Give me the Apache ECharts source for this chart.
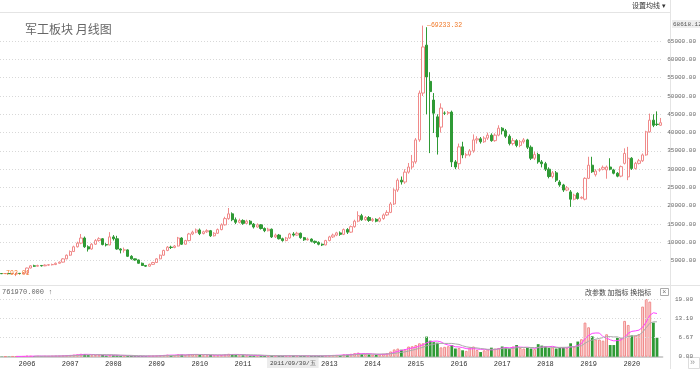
<!DOCTYPE html>
<html><head><meta charset="utf-8">
<script src="https://cdn.jsdelivr.net/npm/echarts@6/dist/echarts.min.js"></script>
<style>html,body{margin:0;padding:0;background:#fff}#c{width:700px;height:369px}</style>
</head><body><div id="c"></div>
<script>
// first month of the series and month count
const startYear = 2005, startMonth = 6, monthCount = 184;
// price axis tick labels
const priceTicks = [5000,10000,15000,20000,25000,30000,35000,40000,45000,50000,55000,60000,65000];
const volumeTicks = [0, 6.67, 13.10, 19.80];
const priceTopLabel = '68618.12';
const volumeUnitLabel = '761970.000 \u2191';
const cursorDateLabel = '2011/09/30/\u4e94';
// monthly candles: [open, close, low, high]
const ohlc = [
[1500,1450,1350,1600],[1450,1500,1400,1550],[1500,1450,1400,1550],[1450,1500,1400,1550],[1500,1550,792.01,1600],[1550,1500,1450,1600],[1500,1600,1450,1700],
[1600,3000,1550,3100],[3000,3600,2900,3800],[3600,3500,3300,3900],[3500,3700,3400,3900],[3700,3600,3400,3800],[3600,3800,3500,4000],[3800,3900,3600,4100],[3900,3950,3700,4200],[3950,4300,3800,4500],[4300,4600,4200,4800],[4600,5500,4500,5700],[5500,6500,5400,6700],
[6500,7500,6300,7800],[7500,8800,7400,9100],[8800,9800,8600,10200],[9800,11200,9500,12300],[11200,8800,8500,11600],[8800,8200,7500,9200],[8200,9500,8000,9800],[9500,10500,9300,10900],[10500,11000,10200,11400],[11000,9400,9200,11200],[9400,9300,8900,9800],[9300,11500,9200,12800],
[11500,11000,10500,12000],[11000,8200,8000,11800],[8200,7900,7000,8400],[7900,7950,7200,8600],[7950,6200,6000,8100],[6200,5500,5300,6500],[5500,5200,5000,5600],[5200,4300,4200,5300],[4300,3700,3600,4500],[3700,3500,3300,3800],[3500,4000,3400,4200],[4000,4500,3900,4700],
[4500,5500,4400,5700],[5500,6500,5400,6700],[6500,7800,6400,8000],[7800,8700,7600,9000],[8700,8600,8200,9100],[8600,9000,8400,9300],[9000,11200,8900,11500],[11200,9500,9300,11400],[9500,10500,9400,10700],[10500,12300,10300,12600],[12300,12800,12000,13200],[12800,13400,12500,13800],
[13400,12400,12000,13800],[12400,12900,12200,13200],[12900,13200,12600,13600],[13200,11800,11500,13400],[11800,12500,11600,12800],[12500,13500,12300,13800],[13500,14800,13300,15200],[14800,16500,14600,17000],[16500,17800,16200,19400],[17800,16200,15800,18200],[16200,15500,15000,16800],[15500,16000,15200,16500],
[16000,15200,14800,16300],[15200,15800,15000,16200],[15800,15000,14700,16100],[15000,14200,13800,15300],[14200,14800,14000,15200],[14800,13800,13500,15000],[13800,13200,12800,14100],[13200,13600,13000,14000],[13600,11500,11200,13800],[11500,12000,11200,12400],[12000,11000,10800,12300],[11000,10500,10200,11300],
[10500,11200,10300,11500],[11200,12300,11000,12600],[12300,12000,11600,12800],[12000,12500,11800,12900],[12500,11300,11000,12700],[11300,10700,10400,11500],[10700,10900,10500,11300],[10900,10300,10000,11100],[10300,10000,9600,10500],[10000,9500,9200,10300],[9500,9300,9000,9700],[9300,10500,9200,10700],
[10500,11500,10300,11800],[11500,12000,11200,12400],[12000,12600,11700,12900],[12600,12200,11800,13000],[12200,13500,12000,13800],[13500,12800,12300,13900],[12800,14300,12600,14600],[14300,15800,14000,16200],[15800,17300,15500,18500],[17300,16200,15900,17800],[16200,16800,15900,17200],[16800,16000,15600,17200],
[16000,16300,15600,16700],[16300,15800,15500,16600],[15800,16500,15500,16900],[16500,17500,16200,17900],[17500,18200,17200,18800],[18200,20500,18000,21000],[20500,24300,20200,24800],[24300,27000,23800,27500],[27000,26500,25800,28000],[26500,29200,26000,30000],[29200,30600,28800,31700],[30600,32000,30000,33900],
[32000,38000,31500,38500],[38000,50800,37500,51500],[50800,63400,50000,69233.32],[63900,55200,45000,68800],[54000,51200,34400,56500],[48900,45300,39900,50800],[44300,38800,34000,45000],[41500,46700,40000,48000],[45300,45300,44800,45800],[45300,45500,44800,45900],[45600,32000,30600,46000],[32000,30600,30000,32500],
[31500,36100,30000,37000],[36100,33900,33000,37500],[33900,33900,33000,34500],[33900,35000,33500,35500],[35000,38000,34500,39500],[38000,38300,37000,39000],[38300,37500,37000,38800],[37500,38500,37200,39000],[38500,39300,38000,40000],[39300,37800,37500,39800],[37800,39300,37500,39800],[39300,41200,39000,42000],
[41200,40500,39500,41500],[40500,39000,38500,41000],[39000,37000,36500,39500],[37000,37800,36500,38500],[37800,36500,36000,38200],[36500,37500,36000,38000],[37500,38000,37000,38500],[38000,36000,35500,38300],[36000,33000,32500,36500],[33000,34000,32500,34800],[34000,32000,31500,34500],[32000,31500,30500,32500],
[31500,30000,29500,32000],[30000,28000,27500,30500],[28000,29000,27500,29500],[29000,27000,26500,29500],[26500,25700,25200,27000],[25700,24300,23800,26000],[24300,24900,24000,25400],[23800,21800,19700,24300],[21800,22900,21500,23300],[23400,22000,21700,23700],[22100,22300,21800,22600],[21800,27500,21500,27800],
[27500,31100,27300,33400],[31100,29300,29000,33400],[28500,29500,28000,30000],[29800,29800,29300,30300],[30000,30500,29700,31000],[29800,30600,27400,31000],[30600,30000,29700,33000],[29800,28900,28600,30100],[28900,28100,27800,29200],[28100,30700,27800,31000],[31600,34300,31300,35700],[27900,33000,27000,36100],
[33000,30200,29800,33300],[30200,31600,29900,32000],[31600,32300,31300,32800],[32300,33900,32000,34300],[33900,40200,33700,40500],[40200,43400,40000,45200],[43400,42000,41500,45000],[42300,42200,41800,45800],[42000,42700,41800,44000]
];
// monthly volume (axis units)
const volume = [
0.1,0.1,0.1,0.15,0.1,0.1,0.15,
0.3,0.25,0.2,0.2,0.15,0.2,0.2,0.25,0.3,0.3,0.4,0.5,
0.6,0.7,0.8,1.0,0.9,0.6,0.5,0.6,0.7,0.6,0.4,0.6,
0.5,0.5,0.3,0.3,0.3,0.3,0.2,0.2,0.2,0.2,0.3,0.3,
0.4,0.5,0.6,0.7,0.5,0.5,0.8,0.7,0.6,0.8,0.9,0.9,
0.6,0.5,0.5,0.6,0.5,0.5,0.6,0.8,1.0,0.9,0.6,0.5,
0.5,0.5,0.4,0.4,0.4,0.4,0.3,0.3,0.4,0.3,0.3,0.3,
0.3,0.4,0.4,0.3,0.3,0.3,0.3,0.3,0.3,0.3,0.3,0.4,
0.5,0.6,0.6,0.5,0.8,0.7,1.0,1.2,1.4,0.9,0.9,0.8,
0.7,0.7,0.8,1.0,1.2,1.8,2.5,2.8,2.4,2.6,3.5,3.6,
4.0,4.6,4.6,6.9,5.5,5.0,4.8,3.2,3.4,3.6,4.0,2.8,
3.0,2.2,2.0,3.2,3.5,2.3,1.6,2.2,2.5,3.1,2.8,3.0,
3.5,3.2,2.8,3.5,4.0,3.0,2.8,3.0,2.8,2.6,4.3,3.8,
3.5,3.0,3.2,2.8,3.0,3.2,3.0,4.6,3.5,5.2,6.0,11.7,
10.1,7.0,5.9,5.9,5.5,7.7,4.0,4.0,6.5,6.5,12.3,10.9,
7.3,7.3,7.8,17.2,19.8,18.9,11.7,6.5
];

const months = [];
for (let i = 0; i < monthCount; i++) {
  const m = startMonth - 1 + i;
  const y = startYear + Math.floor(m / 12);
  const mm = (m % 12) + 1;
  months.push(y + '-' + (mm < 10 ? '0' : '') + mm);
}
function movingAverage(arr, n) {
  return arr.map((v, i) => {
    if (i < n - 1) return '-';
    let s = 0; for (let k = i - n + 1; k <= i; k++) s += arr[k];
    return +(s / n).toFixed(3);
  });
}
const UP = '#f08a8a', DOWN = '#2f9a35', MONO = 'Liberation Mono';
const candleData = ohlc.map(r => [r[0], r[1], r[2], r[3]]);
const volData = volume.map((v, i) => {
  const up = ohlc[i][1] >= ohlc[i][0];
  return { value: v, itemStyle: up ? { color: '#fcdcdc', borderColor: UP, borderWidth: 1 } : { color: DOWN, borderColor: DOWN, borderWidth: 0 } };
});

const chart = echarts.init(document.getElementById('c'), null, { renderer: 'canvas' });
chart.setOption({
  animation: false,
  backgroundColor: '#fff',
  grid: [
    { left: 0, top: 22.8, width: 662.4, height: 256.2 },
    { left: 0, top: 299, width: 662.4, height: 57.7 }
  ],
  xAxis: [
    { type: 'category', gridIndex: 0, data: months, axisLine: { show: false }, axisTick: { show: false }, axisLabel: { show: false }, splitLine: { show: false } },
    { type: 'category', gridIndex: 1, data: months, axisLine: { lineStyle: { color: '#cfcfcf', width: 2 } }, axisTick: { show: false },
      axisLabel: { fontFamily: MONO, fontSize: 7, color: '#333', margin: 4,
        interval: (i, v) => v.slice(5) === '01' && v.slice(0, 4) !== '2012',
        formatter: v => v.slice(0, 4) } }
  ],
  yAxis: [
    { type: 'value', gridIndex: 0, position: 'right', min: 0, max: 70000, interval: 5000,
      axisLine: { show: false }, axisTick: { show: false },
      axisLabel: { fontFamily: MONO, fontSize: 6, color: '#666', align: 'right', margin: 33.6,
        formatter: v => priceTicks.indexOf(v) >= 0 ? v.toFixed(2) : '' },
      splitLine: { show: true, showMinLine: false, showMaxLine: false, lineStyle: { color: '#d8d8d8', type: [1, 2] } } },
    { type: 'value', gridIndex: 1, position: 'right', min: 0, max: 19.8,
      axisLine: { show: false }, axisTick: { show: false }, splitLine: { show: false },
      axisLabel: { fontFamily: MONO, fontSize: 6, color: '#666', align: 'right', margin: 30.6,
        customValues: volumeTicks, formatter: v => v.toFixed(2) } }
  ],
  series: [
    { type: 'candlestick', xAxisIndex: 0, yAxisIndex: 0, data: candleData, barWidth: 2.6,
      itemStyle: { color: '#fff', color0: DOWN, borderColor: UP, borderColor0: DOWN, borderWidth: 1 },
      markPoint: { symbol: 'circle', symbolSize: 0, silent: true,
        label: { show: true, position: 'right', distance: 4, fontFamily: MONO, fontSize: 6.5, color: '#f07a2a',
          formatter: p => '\u2500' + (+p.value).toFixed(2) },
        data: [ { type: 'max', valueDim: 'highest' },
                { type: 'min', valueDim: 'lowest', label: { position: 'right', distance: 0, offset: [-14, -3] } } ] } },
    { type: 'bar', xAxisIndex: 1, yAxisIndex: 1, data: volData, barWidth: 2.8,
      markLine: { silent: true, symbol: 'none', label: { show: false },
        lineStyle: { color: '#d8d8d8', type: [1, 2], width: 1 },
        data: volumeTicks.slice(1).map(v => ({ yAxis: v })) } },
    { type: 'line', xAxisIndex: 1, yAxisIndex: 1, data: movingAverage(volume, 5), symbol: 'none', lineStyle: { color: '#ff44ff', width: 1 } },
    { type: 'line', xAxisIndex: 1, yAxisIndex: 1, data: movingAverage(volume, 10), symbol: 'none', lineStyle: { color: '#aaaaaa', width: 1 } }
  ],
  graphic: [
    { type: 'line', shape: { x1: 0, y1: 12.5, x2: 670, y2: 12.5 }, style: { stroke: '#e4e4e4' }, silent: true },
    { type: 'line', shape: { x1: 670.5, y1: 0, x2: 670.5, y2: 369 }, style: { stroke: '#e4e4e4' }, silent: true },
    { type: 'line', shape: { x1: 0, y1: 285.5, x2: 700, y2: 285.5 }, style: { stroke: '#e4e4e4' }, silent: true },
    { type: 'text', x: 25, y: 23, style: { text: '\u519b\u5de5\u677f\u5757 \u6708\u7ebf\u56fe', font: '12px "Noto Sans CJK SC"', fill: '#666' } },
    { type: 'text', x: 632, y: 2, style: { text: '\u8bbe\u7f6e\u5747\u7ebf \u25be', font: '7px "Noto Sans CJK SC"', fill: '#333' } },
    { type: 'text', x: 672, y: 20, style: { text: priceTopLabel, font: '6px "Liberation Mono"', fill: '#555', backgroundColor: '#eeeeee', padding: [1, 1] } },
    { type: 'text', x: 2, y: 289, style: { text: volumeUnitLabel, font: '7px "Liberation Mono"', fill: '#666' } },
    { type: 'text', x: 585, y: 289, style: { text: '\u6539\u53c2\u6570 \u52a0\u6307\u6807 \u6362\u6307\u6807', font: '7px "Noto Sans CJK SC"', fill: '#444' } },
    { type: 'rect', shape: { x: 660.5, y: 288.5, width: 8, height: 7 }, style: { fill: '#fff', stroke: '#aaa' } },
    { type: 'text', x: 662.3, y: 288.5, style: { text: '\u00d7', font: '7px sans-serif', fill: '#777' } },
    { type: 'text', x: 267, y: 358, style: { text: cursorDateLabel, font: '6px "Liberation Mono"', fill: '#444', backgroundColor: '#ececec', padding: [2, 3] } },
    { type: 'rect', shape: { x: 688.5, y: 357.5, width: 11, height: 11 }, style: { fill: '#fff', stroke: '#ddd' } },
    { type: 'text', x: 690, y: 358, style: { text: '\u00bb', font: '9px sans-serif', fill: '#999' } }
  ]
});
</script></body></html>
